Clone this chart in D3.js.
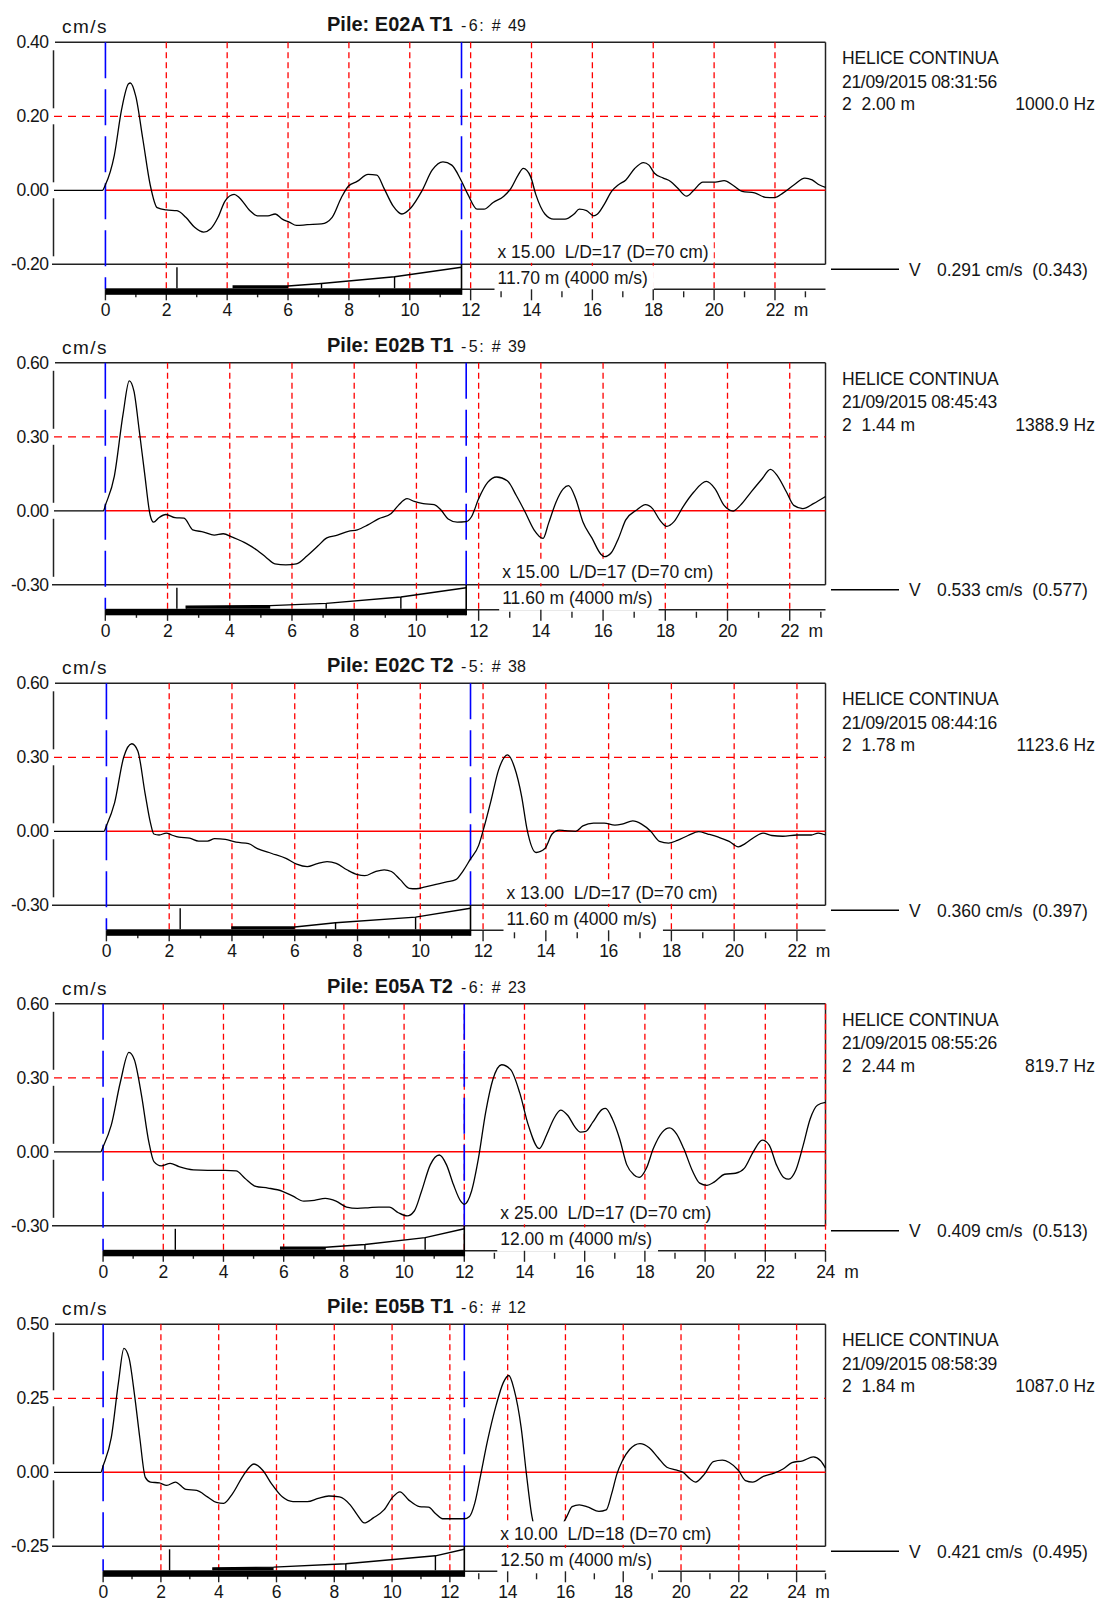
<!DOCTYPE html>
<html>
<head>
<meta charset="utf-8">
<script src="https://cdn.jsdelivr.net/npm/d3@7"></script>
<style>
body { margin: 0; background: #fff; }
svg text { font-family: "Liberation Sans", Arial, sans-serif; fill: #151515; white-space: pre; }
</style>
</head>
<body>
<svg id="chart" width="1098" height="1601"></svg>
<script>
// ---- data (5 pile integrity records) ----
var piles = ["E02A T1", "E02B T1", "E02C T2", "E05A T2", "E05B T1"];
var blowInfo = ["-6: # 49", "-5: # 39", "-5: # 38", "-6: # 23", "-6: # 12"];
var pileType = "HELICE CONTINUA";
var dates = ["21/09/2015 08:31:56", "21/09/2015 08:45:43", "21/09/2015 08:44:16", "21/09/2015 08:55:26", "21/09/2015 08:58:39"];
var sensorLines = ["2  2.00 m", "2  1.44 m", "2  1.78 m", "2  2.44 m", "2  1.84 m"];
var freqs = ["1000.0 Hz", "1388.9 Hz", "1123.6 Hz", "819.7 Hz", "1087.0 Hz"];
var peakV = ["0.291 cm/s  (0.343)", "0.533 cm/s  (0.577)", "0.360 cm/s  (0.397)", "0.409 cm/s  (0.513)", "0.421 cm/s  (0.495)"];
var amplif = ["x 15.00", "x 15.00", "x 13.00", "x 25.00", "x 10.00"];
var slender = ["L/D=17 (D=70 cm)", "L/D=17 (D=70 cm)", "L/D=17 (D=70 cm)", "L/D=17 (D=70 cm)", "L/D=18 (D=70 cm)"];
var pileLen = [11.70, 11.60, 11.60, 12.00, 12.50];
var waveSpeed = 4000;

var yMax = [0.40, 0.60, 0.60, 0.60, 0.50];
var yMin = [-0.20, -0.30, -0.30, -0.30, -0.25];
var xMin = [-1.69, -1.65, -1.67, -1.63, -1.70];
var xMax = [23.66, 23.15, 22.91, 24.0, 25.0];
var lastLabel = [22, 22, 22, 24, 24];

// depth marks on the pile sketch (first one is the tall one)
var markers = [
  [2.35, 7.1, 9.5],
  [2.3, 7.1, 9.5],
  [2.35, 7.3, 9.85],
  [2.4, 8.7, 10.7],
  [2.3, 8.4, 11.5]
];
// amplification ramp, [depth m, fraction of full gain]; first three points = flat step
var ampCurve = [
  [[4.2, 0], [4.2, 0.11], [6.0, 0.11], [7.1, 0.23], [9.5, 0.55], [11.7, 1]],
  [[2.6, 0], [2.6, 0.12], [5.3, 0.15], [7.1, 0.26], [9.5, 0.56], [11.6, 1]],
  [[4.0, 0], [4.0, 0.11], [6.0, 0.11], [7.3, 0.31], [9.85, 0.58], [11.6, 1]],
  [[5.9, 0], [5.9, 0.12], [7.4, 0.12], [8.7, 0.25], [10.7, 0.58], [12.0, 1]],
  [[3.8, 0], [3.8, 0.11], [5.9, 0.15], [8.4, 0.31], [11.5, 0.69], [12.5, 1]]
];

// velocity traces, [depth m, cm/s]
var traceA = [[-1.69,0],[-0.1,0],[0,0.015],[0.29,0.094],[0.53,0.218],[0.76,0.288],[0.82,0.29],[1.0,0.253],[1.23,0.138],[1.47,0.015],[1.7,-0.047],[2.0,-0.053],[2.35,-0.055],[2.64,-0.073],[2.93,-0.1],[3.23,-0.113],[3.46,-0.104],[3.7,-0.073],[3.93,-0.029],[4.23,-0.011],[4.4,-0.02],[4.75,-0.055],[4.99,-0.069],[5.34,-0.069],[5.58,-0.064],[5.81,-0.078],[6.04,-0.086],[6.28,-0.095],[6.63,-0.093],[7.1,-0.091],[7.45,-0.073],[7.75,-0.02],[7.98,0.011],[8.27,0.024],[8.63,0.043],[8.92,0.041],[9.15,0.006],[9.45,-0.042],[9.74,-0.064],[10.04,-0.047],[10.39,-0.003],[10.74,0.055],[11.09,0.077],[11.38,0.068],[11.68,0.028],[11.91,-0.011],[12.21,-0.051],[12.44,-0.051],[12.74,-0.033],[13.09,-0.016],[13.33,0.006],[13.56,0.041],[13.73,0.059],[13.97,0.037],[14.14,-0.011],[14.44,-0.064],[14.73,-0.078],[15.1,-0.078],[15.4,-0.064],[15.57,-0.051],[15.81,-0.055],[16.04,-0.069],[16.16,-0.065],[16.39,-0.038],[16.63,-0.003],[16.86,0.015],[17.1,0.028],[17.39,0.059],[17.68,0.075],[17.86,0.068],[18.04,0.046],[18.33,0.033],[18.57,0.024],[18.8,0.006],[19.1,-0.016],[19.33,0],[19.63,0.022],[20.04,0.022],[20.33,0.026],[20.63,0.013],[20.92,-0.003],[21.33,-0.007],[21.69,-0.019],[21.98,-0.02],[22.27,-0.007],[22.63,0.015],[22.98,0.033],[23.22,0.028],[23.45,0.015],[23.66,0.008]];
var traceB = [[-1.65,0],[-0.06,0],[0,0.022],[0.29,0.141],[0.57,0.392],[0.77,0.527],[0.92,0.485],[1.09,0.326],[1.26,0.155],[1.44,-0.017],[1.55,-0.046],[1.72,-0.028],[1.95,-0.015],[2.24,-0.028],[2.53,-0.03],[2.81,-0.077],[3.16,-0.086],[3.5,-0.099],[3.79,-0.093],[4.08,-0.107],[4.54,-0.133],[4.88,-0.16],[5.17,-0.189],[5.45,-0.215],[5.8,-0.219],[6.14,-0.215],[6.49,-0.182],[6.83,-0.143],[7.12,-0.11],[7.46,-0.099],[7.81,-0.083],[8.1,-0.077],[8.44,-0.057],[8.78,-0.033],[9.19,-0.011],[9.42,0.022],[9.7,0.049],[9.93,0.038],[10.22,0.029],[10.57,0.025],[10.79,0.003],[11.02,-0.033],[11.31,-0.046],[11.6,-0.044],[11.77,-0.024],[12.0,0.049],[12.29,0.115],[12.58,0.137],[12.92,0.122],[13.21,0.062],[13.49,-0.004],[13.78,-0.077],[14.07,-0.112],[14.25,-0.05],[14.49,0.036],[14.72,0.089],[14.89,0.102],[15.12,0.049],[15.35,-0.044],[15.64,-0.11],[15.93,-0.176],[16.04,-0.186],[16.27,-0.169],[16.5,-0.11],[16.73,-0.037],[17.08,0.003],[17.36,0.025],[17.59,0.009],[17.82,-0.037],[18.05,-0.063],[18.28,-0.044],[18.57,0.016],[18.91,0.075],[19.32,0.119],[19.6,0.089],[19.89,0.022],[20.18,-0.001],[20.41,0.022],[20.75,0.075],[21.1,0.128],[21.38,0.168],[21.61,0.141],[21.9,0.075],[22.13,0.022],[22.42,0.009],[22.76,0.029],[23.15,0.058]];
var traceC = [[-1.67,0],[-0.08,0],[0,0.022],[0.26,0.115],[0.55,0.30],[0.81,0.355],[1.0,0.326],[1.23,0.155],[1.4,0.036],[1.51,-0.011],[1.68,-0.015],[1.91,-0.007],[2.08,-0.015],[2.31,-0.024],[2.65,-0.028],[2.94,-0.04],[3.22,-0.04],[3.45,-0.03],[3.79,-0.033],[4.13,-0.044],[4.53,-0.05],[4.81,-0.07],[5.27,-0.09],[5.72,-0.11],[6.06,-0.133],[6.4,-0.143],[6.69,-0.132],[7.03,-0.123],[7.32,-0.13],[7.66,-0.156],[8.0,-0.176],[8.23,-0.18],[8.57,-0.163],[8.85,-0.156],[9.08,-0.163],[9.36,-0.196],[9.65,-0.231],[9.87,-0.233],[10.16,-0.225],[10.5,-0.215],[10.84,-0.205],[11.13,-0.196],[11.35,-0.163],[11.58,-0.116],[11.86,-0.057],[12.03,0.016],[12.26,0.128],[12.49,0.247],[12.78,0.31],[13.0,0.26],[13.23,0.141],[13.4,0.009],[13.69,-0.086],[13.97,-0.07],[14.2,-0.011],[14.43,0.005],[14.61,0.003],[14.95,0],[15.18,0.022],[15.52,0.033],[15.86,0.033],[16.2,0.025],[16.43,0.029],[16.77,0.042],[17.05,0.029],[17.34,0],[17.62,-0.041],[17.91,-0.048],[18.19,-0.037],[18.53,-0.017],[18.87,-0.001],[19.16,-0.011],[19.5,-0.024],[19.84,-0.041],[20.13,-0.063],[20.35,-0.05],[20.64,-0.024],[20.92,-0.007],[21.2,-0.017],[21.55,-0.02],[22.0,-0.015],[22.46,-0.015],[22.68,-0.007],[22.91,-0.015]];
var traceD = [[-1.63,0],[-0.08,0],[0,0.02],[0.27,0.107],[0.57,0.28],[0.86,0.403],[1.04,0.373],[1.28,0.227],[1.52,0.04],[1.69,-0.04],[1.93,-0.057],[2.23,-0.047],[2.52,-0.06],[3.0,-0.073],[3.47,-0.075],[4.06,-0.075],[4.42,-0.077],[4.71,-0.107],[5.07,-0.14],[5.48,-0.147],[5.96,-0.16],[6.31,-0.18],[6.67,-0.2],[7.02,-0.197],[7.38,-0.189],[7.74,-0.2],[8.09,-0.224],[8.45,-0.229],[8.8,-0.227],[9.16,-0.224],[9.51,-0.224],[9.81,-0.247],[10.1,-0.26],[10.34,-0.24],[10.58,-0.16],[10.87,-0.053],[11.17,-0.013],[11.41,-0.053],[11.64,-0.133],[11.88,-0.2],[12.0,-0.213],[12.24,-0.16],[12.47,-0.027],[12.71,0.16],[12.95,0.293],[13.24,0.353],[13.54,0.333],[13.84,0.24],[14.13,0.107],[14.49,0.013],[14.73,0.067],[14.97,0.133],[15.2,0.169],[15.44,0.147],[15.68,0.1],[15.86,0.08],[16.04,0.083],[16.27,0.12],[16.57,0.171],[16.69,0.176],[16.92,0.133],[17.16,0.053],[17.4,-0.053],[17.63,-0.093],[17.81,-0.104],[18.05,-0.067],[18.28,0.013],[18.58,0.08],[18.82,0.097],[19.05,0.073],[19.29,0.013],[19.59,-0.08],[19.82,-0.127],[20.06,-0.136],[20.3,-0.123],[20.65,-0.091],[21.01,-0.087],[21.3,-0.067],[21.6,0],[21.9,0.047],[22.13,0.027],[22.37,-0.053],[22.61,-0.104],[22.78,-0.111],[23.02,-0.073],[23.26,0.027],[23.49,0.133],[23.73,0.189],[24.0,0.2]];
var traceE = [[-1.70,0],[-0.08,0],[0,0.022],[0.28,0.116],[0.53,0.303],[0.72,0.419],[0.9,0.385],[1.09,0.259],[1.27,0.116],[1.46,-0.017],[1.64,-0.033],[1.95,-0.036],[2.2,-0.044],[2.5,-0.033],[2.87,-0.058],[3.24,-0.061],[3.61,-0.083],[3.92,-0.102],[4.17,-0.105],[4.48,-0.072],[4.85,-0.011],[5.22,0.028],[5.53,0.006],[5.83,-0.039],[6.2,-0.083],[6.57,-0.099],[7.07,-0.099],[7.44,-0.088],[7.81,-0.08],[8.18,-0.083],[8.55,-0.11],[8.79,-0.143],[9.04,-0.171],[9.35,-0.154],[9.72,-0.127],[10.03,-0.083],[10.27,-0.066],[10.58,-0.094],[10.95,-0.116],[11.26,-0.118],[11.51,-0.14],[11.75,-0.157],[12.12,-0.157],[12.49,-0.157],[12.68,-0.149],[12.86,-0.105],[13.05,-0.017],[13.3,0.105],[13.6,0.226],[13.85,0.303],[14.04,0.327],[14.22,0.281],[14.47,0.149],[14.65,-0.006],[14.84,-0.149],[15.05,-0.215],[15.4,-0.235],[15.75,-0.2],[16.05,-0.149],[16.23,-0.116],[16.48,-0.11],[16.79,-0.118],[17.16,-0.132],[17.41,-0.127],[17.6,-0.072],[17.78,-0.006],[17.97,0.039],[18.22,0.077],[18.58,0.097],[18.9,0.083],[19.2,0.05],[19.51,0.017],[19.82,0.008],[20.07,0],[20.31,-0.022],[20.5,-0.033],[20.81,-0.006],[21.12,0.036],[21.43,0.041],[21.67,0.033],[21.99,0.006],[22.23,-0.028],[22.48,-0.033],[22.85,-0.014],[23.22,-0.003],[23.53,0.011],[23.84,0.033],[24.21,0.039],[24.58,0.052],[24.83,0.039],[25.0,0.014]];
var traces = [traceA, traceB, traceC, traceD, traceE];

// ---- layout ----
var svg = d3.select('#chart');
var boxLeft = 54, boxRight = 825.5, boxH = 222;
var firstTop = 42.3, panelStep = 320.5;
var fmt2 = d3.format('.2f');
var yFmt = function(v) { return d3.format('.2f')(v).replace('\u2212', '-'); };

piles.forEach(function(pile, i) {
  var top = firstTop + i * panelStep;
  var bottom = top + boxH;
  var axisY = bottom + 25;
  var L = pileLen[i];
  var g = svg.append('g').attr('class', 'panel');

  var x = d3.scaleLinear().domain([xMin[i], xMax[i]]).range([boxLeft, boxRight]);
  var y = d3.scaleLinear().domain([yMin[i], yMax[i]]).range([bottom, top]);
  var yTicks = [yMax[i], yMax[i] / 2, 0, yMin[i]];
  var evenTicks = d3.range(2, lastLabel[i] + 1, 2);
  var allTicks = d3.range(0, Math.floor(xMax[i]) + 1);

  // frame
  g.append('line').attr('x1', boxLeft + 1).attr('x2', boxRight).attr('y1', top).attr('y2', top)
    .attr('stroke', '#222').attr('stroke-width', 1.5);
  g.append('line').attr('x1', boxLeft - 2).attr('x2', boxRight).attr('y1', bottom).attr('y2', bottom)
    .attr('stroke', '#222').attr('stroke-width', 1.5);
  g.append('line').attr('x1', boxRight).attr('x2', boxRight).attr('y1', top).attr('y2', bottom)
    .attr('stroke', '#222').attr('stroke-width', 1.5);
  // left edge, broken at the tick labels
  var tickYs = yTicks.map(function(v) { return y(v); });
  for (var k = 0; k < tickYs.length - 1; k++) {
    g.append('line').attr('x1', boxLeft - 0.5).attr('x2', boxLeft - 0.5)
      .attr('y1', tickYs[k] + 8).attr('y2', tickYs[k + 1] - 8)
      .attr('stroke', '#222').attr('stroke-width', 1.5);
  }

  // red grid
  g.selectAll('.vgrid').data(evenTicks).enter().append('line')
    .attr('class', 'vgrid')
    .attr('x1', function(d) { return x(d); }).attr('x2', function(d) { return x(d); })
    .attr('y1', top).attr('y2', axisY)
    .attr('stroke', '#ff0000').attr('stroke-width', 1.3).attr('stroke-dasharray', '6,4');
  g.append('line').attr('x1', boxLeft).attr('x2', boxRight)
    .attr('y1', y(yTicks[1])).attr('y2', y(yTicks[1]))
    .attr('stroke', '#ff0000').attr('stroke-width', 1.3).attr('stroke-dasharray', '8,6');
  g.append('line').attr('x1', x(0)).attr('x2', boxRight).attr('y1', y(0)).attr('y2', y(0))
    .attr('stroke', '#ff0000').attr('stroke-width', 1.6);

  // blue markers at toe and pile end
  g.selectAll('.blue').data([0, L]).enter().append('line')
    .attr('class', 'blue')
    .attr('x1', function(d) { return x(d); }).attr('x2', function(d) { return x(d); })
    .attr('y1', top).attr('y2', function(d) { return d === 0 ? axisY : bottom; })
    .attr('stroke', '#0000ff').attr('stroke-width', 1.6).attr('stroke-dasharray', '36,11');

  // velocity trace
  var line = d3.line()
    .x(function(d) { return x(d[0]); })
    .y(function(d) { return y(d[1]); })
    .curve(d3.curveMonotoneX);
  g.append('path').datum(traces[i]).attr('d', line)
    .attr('fill', 'none').attr('stroke', '#000').attr('stroke-width', 1.3);

  // depth axis line beyond the pile end
  g.append('line').attr('x1', x(L)).attr('x2', boxRight).attr('y1', axisY).attr('y2', axisY)
    .attr('stroke', '#222').attr('stroke-width', 1.5);

  // annotations with opaque background
  var tx = x(L) + 36;
  var t1 = g.append('text').attr('x', tx).attr('y', bottom - 6.5)
    .attr('font-size', 17.5).text(amplif[i] + '  ' + slender[i]);
  var w1 = t1.node().getComputedTextLength();
  g.insert('rect', function() { return t1.node(); })
    .attr('x', tx - 3).attr('y', bottom - 25).attr('width', w1 + 8).attr('height', 23.5)
    .attr('fill', '#fff');
  var t2 = g.append('text').attr('x', tx).attr('y', bottom + 19.5)
    .attr('font-size', 17.5).text(fmt2(L) + ' m (' + waveSpeed + ' m/s)');
  var w2 = t2.node().getComputedTextLength();
  g.insert('rect', function() { return t2.node(); })
    .attr('x', tx - 3).attr('y', bottom + 1.5).attr('width', w2 + 9).attr('height', axisY + 1 - bottom - 1.5)
    .attr('fill', '#fff');

  // ticks on the depth axis
  g.selectAll('.tick').data(allTicks).enter().append('line')
    .attr('class', 'tick')
    .attr('x1', function(d) { return x(d); }).attr('x2', function(d) { return x(d); })
    .attr('y1', function(d) { return d % 2 === 0 ? axisY : axisY + 2; })
    .attr('y2', function(d) { return d % 2 === 0 ? axisY + 11 : axisY + 8; })
    .attr('stroke', '#222').attr('stroke-width', 1.4);

  // pile sketch: shaft bar, amplification ramp, marks
  var barTop = bottom + 24, barBot = bottom + 30.5;
  var ry = d3.scaleLinear().domain([0, 1]).range([barTop, bottom + 3]);
  g.append('rect').attr('x', x(0)).attr('y', barTop).attr('width', x(L) - x(0)).attr('height', barBot - barTop)
    .attr('fill', '#000');
  var ramp = ampCurve[i];
  // the flat step is drawn solid
  g.append('path').datum(ramp.slice(0, 3))
    .attr('d', d3.area().x(function(d) { return x(d[0]); }).y0(barTop).y1(function(d) { return ry(d[1]); }))
    .attr('fill', '#000');
  g.append('path').datum(ramp)
    .attr('d', d3.line().x(function(d) { return x(d[0]); }).y(function(d) { return ry(d[1]); }))
    .attr('fill', 'none').attr('stroke', '#000').attr('stroke-width', 1.4);
  g.append('line').attr('x1', x(L)).attr('x2', x(L)).attr('y1', bottom).attr('y2', barBot)
    .attr('stroke', '#000').attr('stroke-width', 1.6);
  var rampAt = function(dep) {
    for (var j = ramp.length - 1; j > 0; j--) {
      if (dep >= ramp[j - 1][0] && dep <= ramp[j][0] && ramp[j][0] > ramp[j - 1][0]) {
        var t = (dep - ramp[j - 1][0]) / (ramp[j][0] - ramp[j - 1][0]);
        return ramp[j - 1][1] + t * (ramp[j][1] - ramp[j - 1][1]);
      }
    }
    return 0;
  };
  g.selectAll('.mark').data(markers[i]).enter().append('line')
    .attr('class', 'mark')
    .attr('x1', function(d) { return x(d); }).attr('x2', function(d) { return x(d); })
    .attr('y1', barTop)
    .attr('y2', function(d, j) { return j === 0 ? ry(1) : ry(rampAt(d)); })
    .attr('stroke', '#000').attr('stroke-width', 1.4);

  // depth labels
  g.selectAll('.xlab').data([0].concat(evenTicks)).enter().append('text')
    .attr('class', 'xlab')
    .attr('x', function(d) { return x(d); }).attr('y', bottom + 52)
    .attr('text-anchor', 'middle').attr('font-size', 17.5).attr('letter-spacing', -0.4)
    .text(function(d) { return d; });
  g.append('text').attr('x', x(lastLabel[i]) + 26).attr('y', bottom + 52)
    .attr('text-anchor', 'middle').attr('font-size', 17.5).text('m');

  // velocity labels
  g.selectAll('.ylab').data(yTicks).enter().append('text')
    .attr('class', 'ylab')
    .attr('x', 48.5).attr('y', function(d) { return y(d) + 6; })
    .attr('text-anchor', 'end').attr('font-size', 17.5).attr('letter-spacing', -0.5)
    .text(function(d) { return yFmt(d); });
  g.append('text').attr('x', 62).attr('y', top - 9).attr('font-size', 19).attr('letter-spacing', 1.5)
    .text('cm/s');

  // title
  var title = g.append('text').attr('x', 327).attr('y', top - 11);
  title.append('tspan').attr('font-size', 20).attr('font-weight', 'bold').text('Pile: ' + pile);
  title.append('tspan').attr('font-size', 16).attr('x', 461)
    .attr('dx', '0 2.5 1.5 0 3.5 0 3 0').text(blowInfo[i]);

  // info block on the right
  g.append('text').attr('x', 842).attr('y', top + 22).attr('font-size', 17.5).attr('letter-spacing', -0.2).text(pileType);
  g.append('text').attr('x', 842).attr('y', top + 45.5).attr('font-size', 17.5).attr('letter-spacing', -0.3).text(dates[i]);
  g.append('text').attr('x', 842).attr('y', top + 68).attr('font-size', 17.5).text(sensorLines[i]);
  g.append('text').attr('x', 1095).attr('y', top + 68).attr('font-size', 17.5).attr('text-anchor', 'end').text(freqs[i]);

  // legend for the trace
  g.append('line').attr('x1', 831).attr('x2', 899).attr('y1', bottom + 5).attr('y2', bottom + 5)
    .attr('stroke', '#000').attr('stroke-width', 1.4);
  g.append('text').attr('x', 909).attr('y', bottom + 11.5).attr('font-size', 17.5).text('V');
  g.append('text').attr('x', 937).attr('y', bottom + 11.5).attr('font-size', 17.5).text(peakV[i]);
});
</script>
</body>
</html>
